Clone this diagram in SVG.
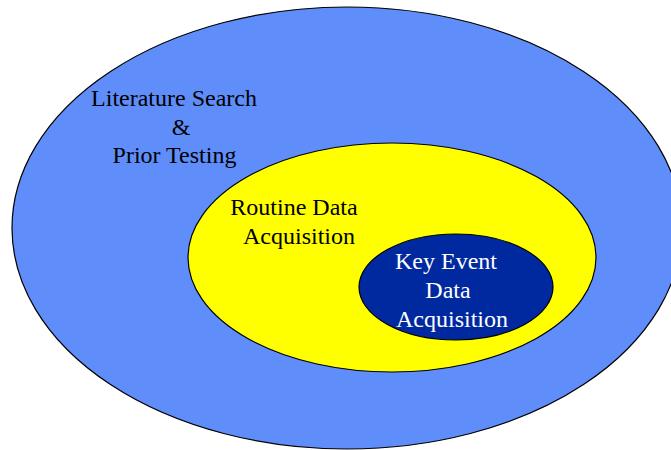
<svg xmlns="http://www.w3.org/2000/svg" width="671" height="450" viewBox="0 0 671 450">
<style>
.e{stroke:#000;stroke-width:1.2}
.t{font-family:'Liberation Serif',serif;font-size:24px;text-anchor:middle}
</style>
<rect width="671" height="450" fill="#fff"/>
<g id="outer">
<ellipse class="e" cx="347" cy="228" rx="335" ry="221" fill="#5F8EFB"/>
<text class="t" font-family="Liberation Serif, serif" x="174" y="106">Literature Search</text>
<text class="t" font-family="Liberation Serif, serif" x="181" y="135">&amp;</text>
<text class="t" font-family="Liberation Serif, serif" x="174.5" y="163">Prior Testing</text>
</g>
<g id="routine">
<ellipse class="e" cx="392" cy="257.5" rx="204" ry="114.5" fill="#FFFF00"/>
<text class="t" font-family="Liberation Serif, serif" x="294" y="215">Routine Data</text>
<text class="t" font-family="Liberation Serif, serif" x="299" y="244">Acquisition</text>
</g>
<g id="keyevent">
<ellipse class="e" cx="456" cy="287" rx="97" ry="53" fill="#0029A0"/>
<text class="t" font-family="Liberation Serif, serif" x="446" y="269" fill="#fff">Key Event</text>
<text class="t" font-family="Liberation Serif, serif" x="448" y="298" fill="#fff">Data</text>
<text class="t" font-family="Liberation Serif, serif" x="452" y="327" fill="#fff">Acquisition</text>
</g>
<g id="connectors"/>
</svg>
